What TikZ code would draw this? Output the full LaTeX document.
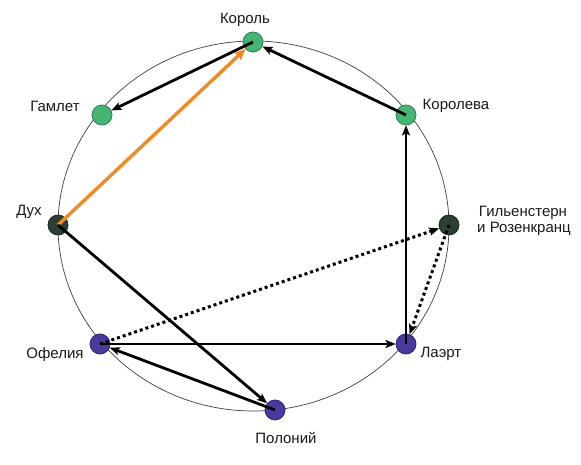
\documentclass[tikz,border=0pt]{standalone}
\usepackage{fontspec}
\setmainfont{Liberation Sans}
\usetikzlibrary{arrows.meta}
\definecolor{lgreen}{HTML}{45B574}
\definecolor{lgreenb}{HTML}{2F7E52}
\definecolor{dgreen}{HTML}{2B3F33}
\definecolor{dgreenb}{HTML}{1A2820}
\definecolor{purp}{HTML}{4A3A9E}
\definecolor{purpb}{HTML}{2E2370}
\definecolor{orng}{HTML}{F08A24}
\definecolor{txt}{HTML}{1A1A1A}
\begin{document}
\begin{tikzpicture}[x=1pt,y=-1pt,
  pers/.style={circle,minimum size=20pt,inner sep=0pt,line width=0.8pt},
  gnode/.style={pers,fill=lgreen,draw=lgreenb},
  dnode/.style={pers,fill=dgreen,draw=dgreenb},
  pnode/.style={pers,fill=purp,draw=purpb},
  lbl/.style={font=\fontsize{15}{16}\selectfont,text=txt,anchor=base,inner sep=0pt},
  rel/.style={line width=2.8pt,black,-{Stealth[length=10pt,width=8pt,inset=2pt]}},
  dotrel/.style={line width=3pt,black,dash pattern=on 3pt off 3pt,-{Stealth[length=10pt,width=8pt,inset=2pt]}},
  orel/.style={line width=3.4pt,orng,-{Stealth[length=11pt,width=10pt,inset=2pt]}},
  ring/.style={draw=black!75,line width=0.7pt}
]
\useasboundingbox (0,0) rectangle (581,465);
\fill[white] (0,0) rectangle (581,465);
\draw[ring] (253.5,226) ellipse [x radius=195.5pt, y radius=185pt];

\node[gnode] (king) at (253,42) {};
\node[gnode] (ham) at (102,115) {};
\node[dnode] (ghost) at (58,225) {};
\node[gnode] (queen) at (406,115) {};
\node[dnode] (gr) at (449,225) {};
\node[pnode] (laer) at (406,344) {};
\node[pnode] (oph) at (100,344) {};
\node[pnode] (pol) at (275,410) {};

\node[lbl] (tking) at (245,24) {Король};
\node[lbl] (tham) at (55,112) {Гамлет};
\node[lbl] (tghost) at (29,215) {Дух};
\node[lbl] (tqueen) at (456,110) {Королева};
\node[lbl] (tgr1) at (523,217) {Гильенстерн};
\node[lbl] (tgr2) at (524,233) {и Розенкранц};
\node[lbl] (tlaer) at (441,357) {Лаэрт};
\node[lbl] (toph) at (55,358) {Офелия};
\node[lbl] (tpol) at (286,443) {Полоний};

\draw[rel] (king.center) -- (ham);
\draw[orel] (ghost.center) -- (king);
\draw[rel] (queen.center) -- (king);
\draw[rel] (laer.center) -- (queen);
\draw[rel] (ghost.center) -- (pol);
\draw[rel] (pol.center) -- (oph);
\draw[rel] (oph.center) -- (laer);
\draw[dotrel] (oph.center) -- (gr);
\draw[dotrel] (gr.center) -- (laer);
\end{tikzpicture}
\end{document}
